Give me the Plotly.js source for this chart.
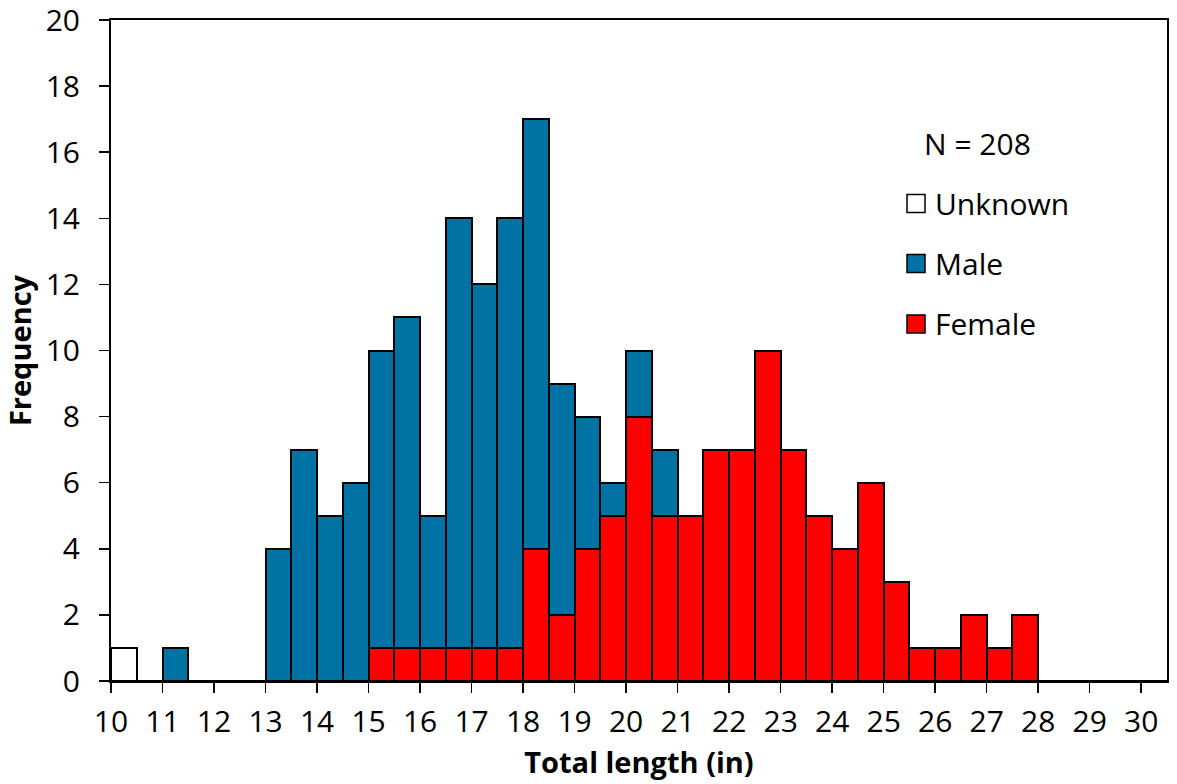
<!DOCTYPE html>
<html>
<head>
<meta charset="utf-8">
<script src="https://cdn.plot.ly/plotly-3.0.1.min.js"></script>
<style>html,body{margin:0;padding:0;background:#fff;}#chart{width:1177px;height:784px;}</style>
</head>
<body>
<div id="chart"></div>
<script>
// Bin left edges (inches), bin width 0.5
var binStarts = [10,10.5,11,11.5,12,12.5,13,13.5,14,14.5,15,15.5,16,16.5,17,17.5,18,18.5,19,19.5,20,20.5,21,21.5,22,22.5,23,23.5,24,24.5,25,25.5,26,26.5,27,27.5,28,28.5,29,29.5,30];
var female  = [0,0,0,0,0,0,0,0,0,0,1,1,1,1,1,1,4,2,4,5,8,5,5,7,7,10,7,5,4,6,3,1,1,2,1,2,0,0,0,0,0];
var male    = [0,0,1,0,0,0,4,7,5,6,9,10,4,13,11,13,13,7,4,1,2,2,0,0,0,0,0,0,0,0,0,0,0,0,0,0,0,0,0,0,0];
var unknown = [1,0,0,0,0,0,0,0,0,0,0,0,0,0,0,0,0,0,0,0,0,0,0,0,0,0,0,0,0,0,0,0,0,0,0,0,0,0,0,0,0];
var binWidth = 0.5;
var xTicks = [10,11,12,13,14,15,16,17,18,19,20,21,22,23,24,25,26,27,28,29,30];
var yTicks = [0,2,4,6,8,10,12,14,16,18,20];
var totalN = 208;
var seriesNames  = ['Unknown','Male','Female'];
var seriesColors = ['#ffffff','#0072a3','#ff0000'];

var centers = binStarts.map(function(s){return s + binWidth/2;});
var FONT = '"Open Sans", "Noto Sans", sans-serif';
function tr(name, vals, color){
  return {type:'bar', name:name, x:centers, y:vals, width:binWidth, showlegend:false,
    marker:{color:color, line:{color:'#000', width:2}}, hoverinfo:'x+y+name'};
}
var data = [
  tr('Female', female, seriesColors[2]),
  tr('Male', male, seriesColors[1]),
  tr('Unknown', unknown, seriesColors[0])
];

// manual legend (paper coordinates)
var shapes = [], annotations = [];
var legY = [0.7224, 0.6316, 0.5401];
var boxW = 18/1056, boxH = 18/661;
seriesNames.forEach(function(n, i){
  shapes.push({type:'rect', xref:'paper', yref:'paper', x0:0.7538, x1:0.7538+boxW,
    y0:legY[i]-boxH/2, y1:legY[i]+boxH/2, fillcolor:seriesColors[i], line:{color:'#000', width:1.5}});
  annotations.push({xref:'paper', yref:'paper', x:0.7785, y:legY[i], xanchor:'left', yanchor:'middle',
    text:n, showarrow:false, font:{size:30}});
});
annotations.push({xref:'paper', yref:'paper', x:0.768, y:0.8139, xanchor:'left', yanchor:'middle',
  text:'N = ' + totalN, showarrow:false, font:{size:30}});

var layout = {
  width:1177, height:784,
  margin:{l:111, r:10, t:20, b:103},
  paper_bgcolor:'#fff', plot_bgcolor:'#fff',
  barmode:'stack', bargap:0,
  font:{family:FONT, size:30, color:'#000'},
  showlegend:false,
  xaxis:{range:[10,30.5], tickvals:xTicks, ticktext:xTicks.map(String), ticks:'outside', ticklen:10,
    tickwidth:1.5, tickcolor:'#000', showline:true, linecolor:'#000', linewidth:2, mirror:true,
    showgrid:false, zeroline:false, ticklabelstandoff:3, tickfont:{size:30}, ticklabeloverflow:'allow',
    title:{text:'<b>Total length (in)</b>', font:{size:29}, standoff:13}},
  yaxis:{range:[0,20], tickvals:yTicks, ticktext:yTicks.map(String), ticks:'outside', ticklen:10,
    tickwidth:1.5, tickcolor:'#000', showline:true, linecolor:'#000', linewidth:2, mirror:true,
    showgrid:false, zeroline:false, ticklabelstandoff:13, tickfont:{size:30}, ticklabeloverflow:'allow',
    title:{text:'<b>Frequency</b>', font:{size:29}, standoff:8}},
  shapes:shapes,
  annotations:annotations
};
Plotly.newPlot('chart', data, layout, {displayModeBar:false, staticPlot:true});
</script>
</body>
</html>
